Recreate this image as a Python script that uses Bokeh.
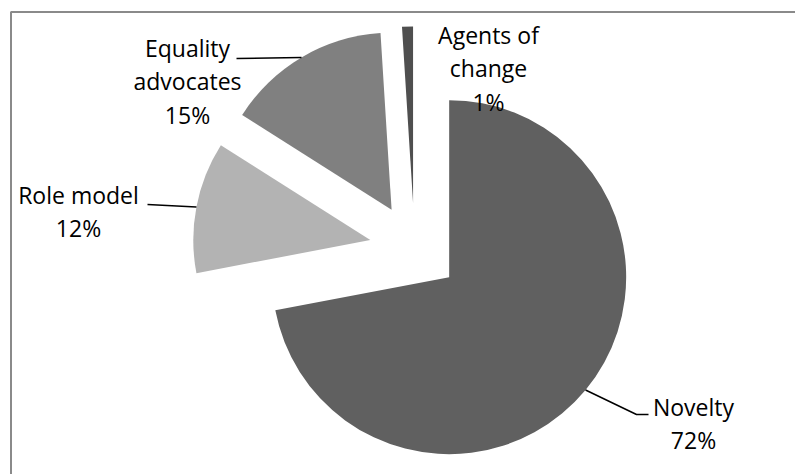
import math
from bokeh.plotting import figure
from bokeh.models import Range1d
from bokeh.embed import file_html
from bokeh.resources import INLINE
from bokeh.core.properties import value

# ---- data ----
categories = ["Novelty", "Role model", "Equality advocates", "Agents of change"]
percents = [72, 12, 15, 1]
colors = ["#606060", "#b3b3b3", "#808080", "#4f4f4f"]
label_texts = ["Novelty\n72%", "Role model\n12%", "Equality\nadvocates\n15%", "Agents of\nchange\n1%"]

W, H = 795, 474

def Y(py):
    return H - py

p = figure(width=W, height=H, x_range=Range1d(0, W), y_range=Range1d(0, H),
           output_backend="svg", toolbar_location=None, min_border=0)
p.axis.visible = False
p.grid.visible = False
p.outline_line_color = None
p.background_fill_color = "white"
p.border_fill_color = "white"

# chart frame
p.quad(left=[10.5], right=[W + 10], bottom=[-10], top=[Y(11.5)], fill_color=None,
       line_color="#8a8a8a", line_width=2)

cx, cy = 414, Y(248)
R = 177
explode = 45

total = sum(percents)
cum = 0.0
xs, ys, starts, ends, mids = [], [], [], [], []
for v in percents:
    s_frac = cum / total
    cum += v
    e_frac = cum / total
    a_start = math.radians(90 - 360 * e_frac)
    a_end = math.radians(90 - 360 * s_frac)
    mid = (a_start + a_end) / 2
    starts.append(a_start)
    ends.append(a_end)
    mids.append(mid)
    xs.append(cx + explode * math.cos(mid))
    ys.append(cy + explode * math.sin(mid))

p.wedge(x=xs, y=ys, radius=R, start_angle=starts, end_angle=ends,
        fill_color=colors, line_color=None)

# leader lines from the arc mid-point to the labels
arc_pts = [(xs[i] + R * math.cos(mids[i]), ys[i] + R * math.sin(mids[i])) for i in range(4)]
lead_x = [
    [arc_pts[0][0], 636, 648],
    [arc_pts[1][0], 147],
    [arc_pts[2][0], 236],
]
lead_y = [
    [arc_pts[0][1], Y(414), Y(414)],
    [arc_pts[1][1], Y(204)],
    [arc_pts[2][1], Y(58)],
]
p.multi_line(xs=lead_x, ys=lead_y, line_color="black", line_width=1.5)

# labels
lab_x = [693, 78, 187, 488]
lab_y = [Y(423), Y(211), Y(81), Y(68)]
p.text(x=lab_x, y=lab_y, text=label_texts, text_font=value("Open Sans"),
       text_font_size="23px", text_align="center", text_baseline="middle",
       text_color="black", text_line_height=1.05)

open("out.html", "w").write(file_html(p, INLINE))
